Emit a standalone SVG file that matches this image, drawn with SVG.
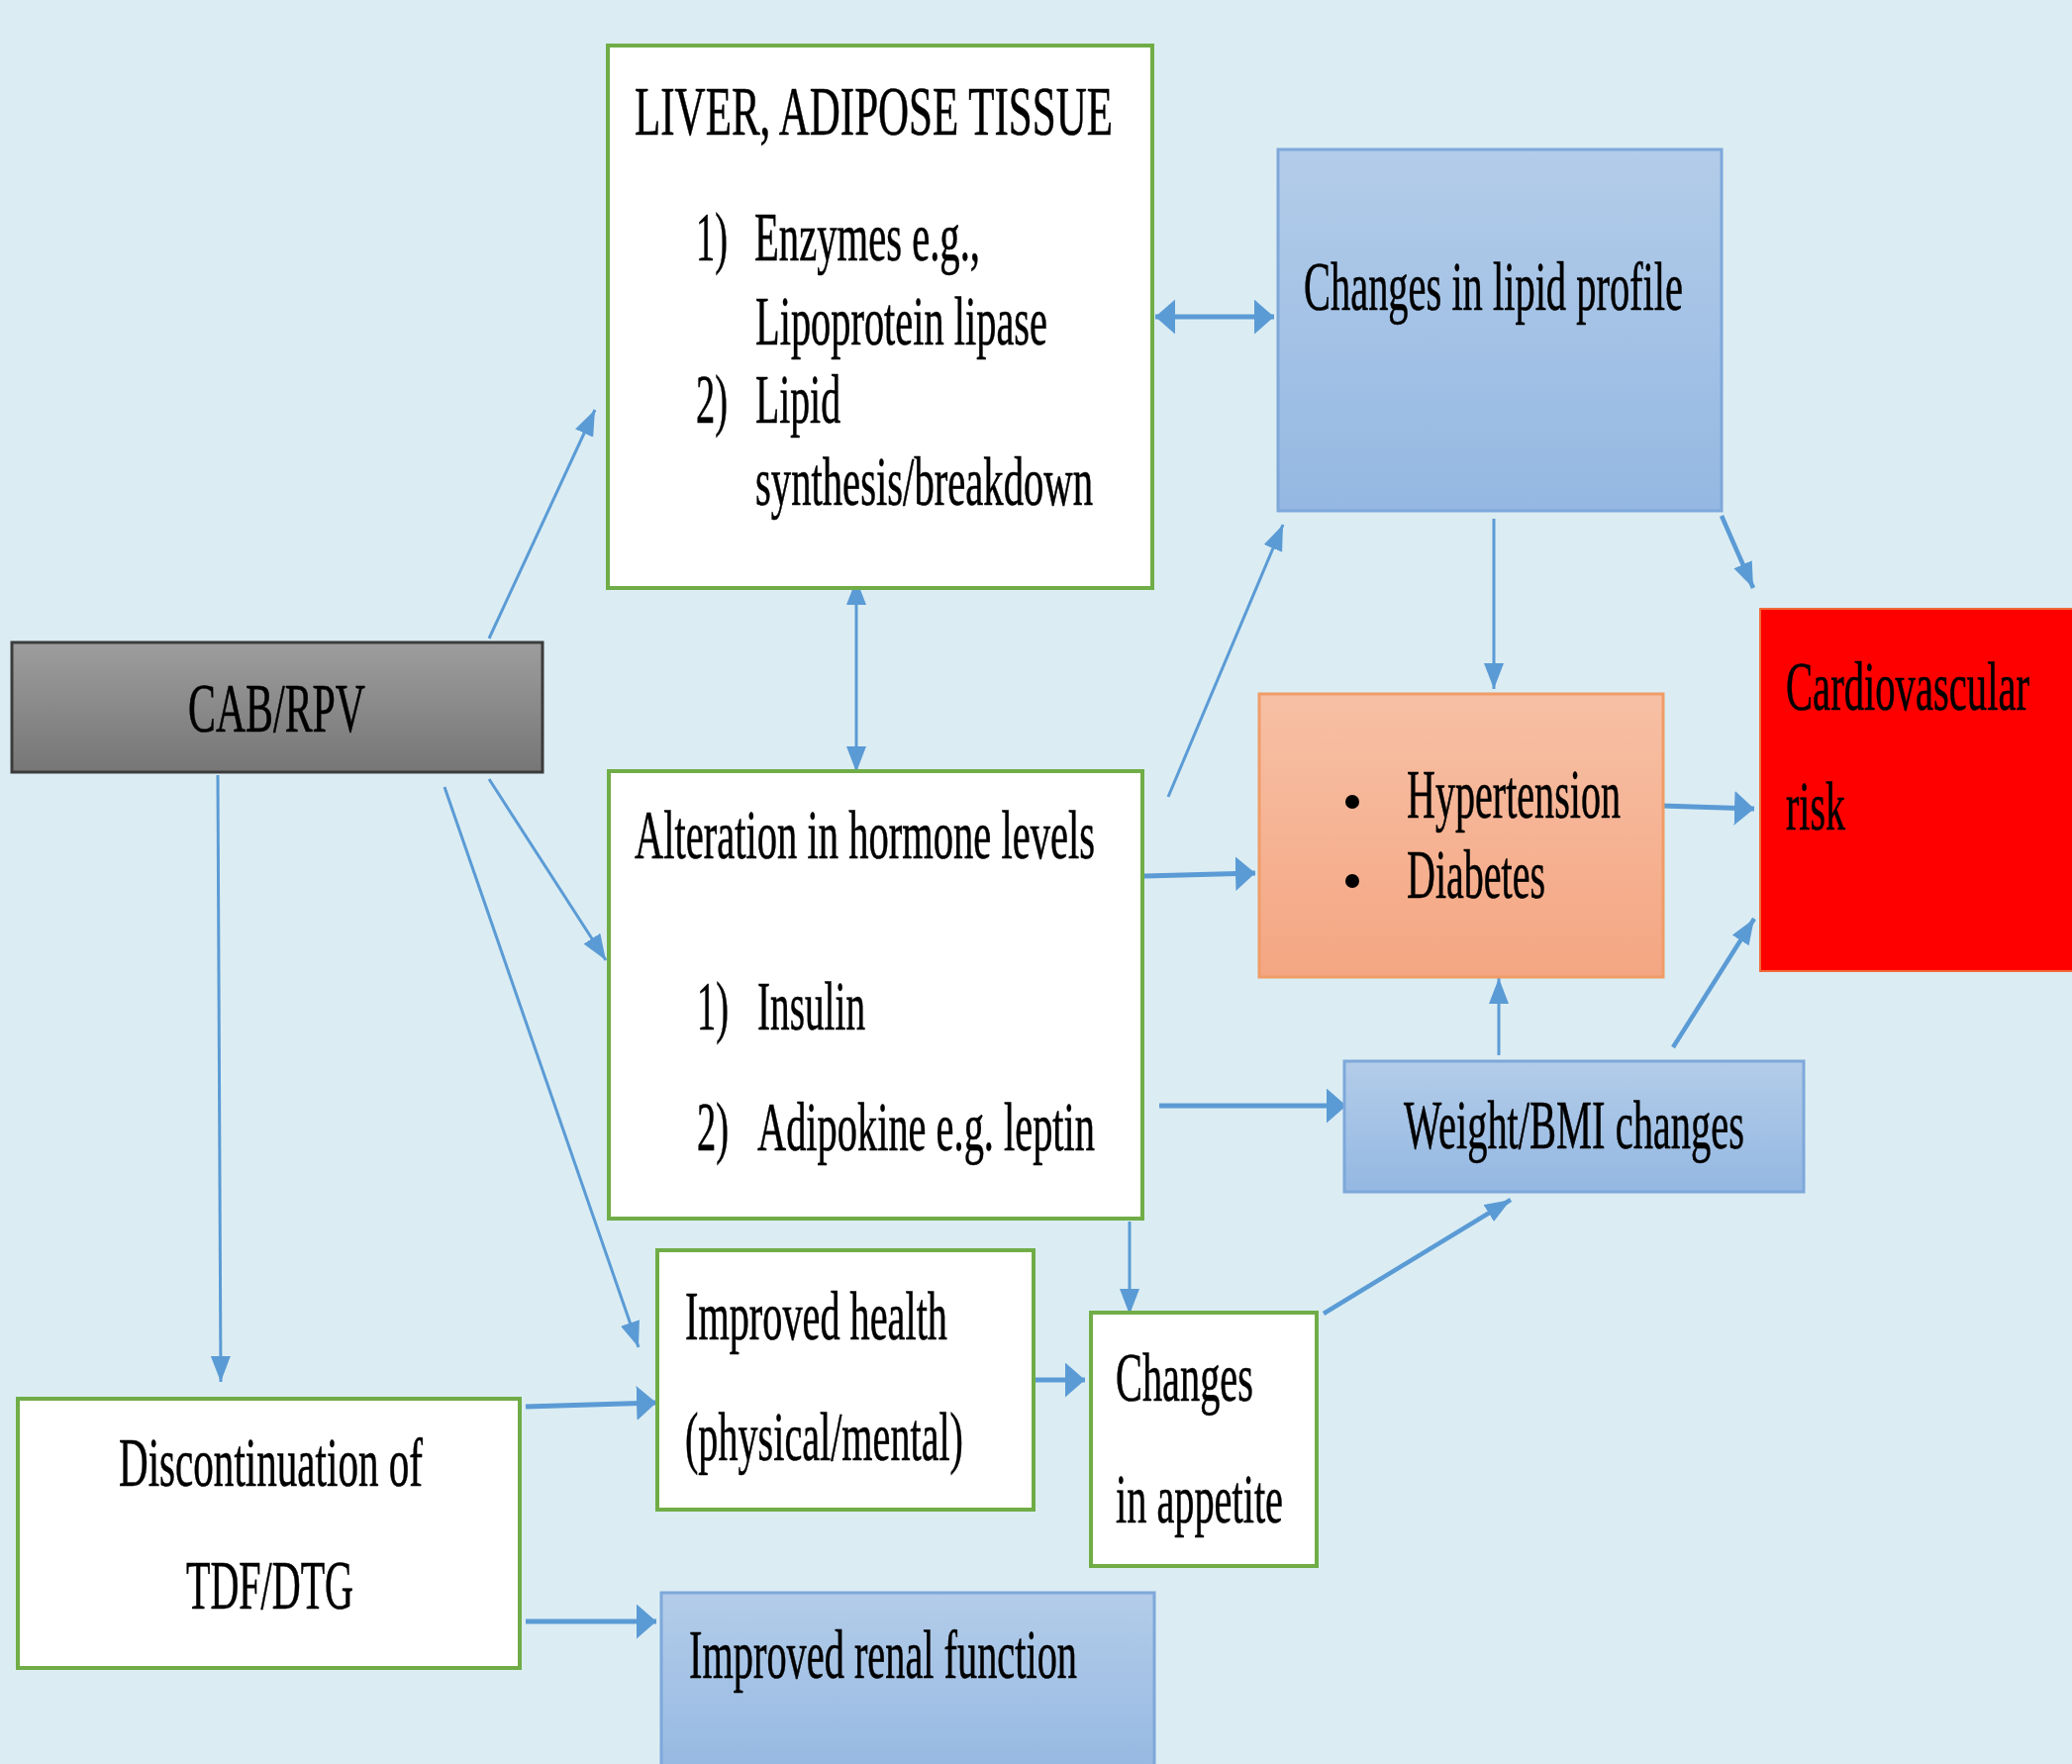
<svg xmlns="http://www.w3.org/2000/svg" width="2093" height="1782" viewBox="0 0 2093 1782">
<defs>
<linearGradient id="gBlue" x1="0" y1="0" x2="0" y2="1"><stop offset="0" stop-color="#b3cce9"/><stop offset="1" stop-color="#94b8e2"/></linearGradient>
<linearGradient id="gOrange" x1="0" y1="0" x2="0" y2="1"><stop offset="0" stop-color="#f7c0a5"/><stop offset="1" stop-color="#f4a682"/></linearGradient>
<linearGradient id="gGray" x1="0" y1="0" x2="0" y2="1"><stop offset="0" stop-color="#9d9d9d"/><stop offset="1" stop-color="#767676"/></linearGradient>
<marker id="thin" markerUnits="userSpaceOnUse" markerWidth="28" markerHeight="22" refX="26" refY="10" orient="auto-start-reverse"><path d="M0,0 L26,10 L0,20 z" fill="#5b9bd5"/></marker>
<marker id="thick" markerUnits="userSpaceOnUse" markerWidth="22" markerHeight="36" refX="20" refY="17.5" orient="auto-start-reverse"><path d="M0,0 L20,17.5 L0,35 z" fill="#5b9bd5"/></marker>
</defs>
<style>
text{font-family:'Liberation Serif','Times New Roman','DejaVu Serif',serif;font-size:70px;fill:#000;stroke:#000;stroke-width:0.6}
.g{fill:#fff;stroke:#70ad47;stroke-width:4}
.b{fill:url(#gBlue);stroke:#7ea8da;stroke-width:3}
.c{fill:none;stroke:#5b9bd5;stroke-width:3}
.m{fill:none;stroke:#5b9bd5;stroke-width:4.5}
.t{fill:none;stroke:#5b9bd5;stroke-width:5}
.ta{marker-end:url(#thin)}
.tk{marker-end:url(#thick)}
</style>
<rect x="0" y="0" width="2093" height="1782" fill="#dbedf3"/>

<g id="connectors">
<line class="c ta" x1="494" y1="645" x2="601" y2="414"/>
<line class="c ta" x1="865" y1="585" x2="865" y2="780" style="marker-start:url(#thin)"/>
<line class="t tk" x1="1167" y1="320" x2="1287" y2="320" style="marker-start:url(#thick)"/>
<line class="c ta" x1="494" y1="787" x2="612" y2="970"/>
<line class="c ta" x1="449" y1="795" x2="645" y2="1361"/>
<line class="c ta" x1="220" y1="783" x2="223" y2="1396"/>
<line class="c ta" x1="1180" y1="805" x2="1296" y2="530"/>
<line class="t tk" x1="1156" y1="885" x2="1268" y2="882"/>
<line class="t tk" x1="1171" y1="1117" x2="1360" y2="1117"/>
<line class="c ta" x1="1141" y1="1234" x2="1141" y2="1328"/>
<line class="c ta" x1="1509" y1="524" x2="1509" y2="696"/>
<line class="m ta" x1="1739" y1="521" x2="1771" y2="594"/>
<line class="t tk" x1="1679" y1="814" x2="1772" y2="817"/>
<line class="m ta" x1="1690" y1="1058" x2="1772" y2="928"/>
<line class="c ta" x1="1514" y1="1066" x2="1514" y2="988"/>
<line class="m ta" x1="1337" y1="1327" x2="1526" y2="1212"/>
<line class="t tk" x1="1045" y1="1394" x2="1096" y2="1394"/>
<line class="t tk" x1="531" y1="1421" x2="663" y2="1417"/>
<line class="t tk" x1="531" y1="1638" x2="663" y2="1638"/>
</g>

<g id="liver">
<rect class="g" x="614" y="46" width="550" height="548"/>
<text x="641" y="136" textLength="483" lengthAdjust="spacingAndGlyphs">LIVER, ADIPOSE TISSUE</text>
<text x="703" y="263" textLength="32" lengthAdjust="spacingAndGlyphs">1)</text>
<text x="762" y="263" textLength="228" lengthAdjust="spacingAndGlyphs">Enzymes e.g.,</text>
<text x="763" y="348" textLength="295" lengthAdjust="spacingAndGlyphs">Lipoprotein lipase</text>
<text x="703" y="427" textLength="32" lengthAdjust="spacingAndGlyphs">2)</text>
<text x="763" y="427" textLength="86" lengthAdjust="spacingAndGlyphs">Lipid</text>
<text x="763" y="510" textLength="341" lengthAdjust="spacingAndGlyphs">synthesis/breakdown</text>
</g>

<g id="lipid-profile">
<rect class="b" x="1291" y="151" width="448" height="365"/>
<text x="1317" y="313" textLength="383" lengthAdjust="spacingAndGlyphs">Changes in lipid profile</text>
</g>

<g id="cardiovascular">
<rect x="1778" y="615" width="320" height="366" fill="#ff0000" stroke="#f06a3a" stroke-width="2"/>
<text x="1804" y="717" textLength="246" lengthAdjust="spacingAndGlyphs">Cardiovascular</text>
<text x="1804" y="838" textLength="60" lengthAdjust="spacingAndGlyphs">risk</text>
</g>

<g id="hypertension">
<rect x="1272" y="701" width="408" height="286" fill="url(#gOrange)" stroke="#f09c68" stroke-width="3"/>
<circle cx="1366" cy="810" r="7" fill="#000"/>
<circle cx="1366" cy="890" r="7" fill="#000"/>
<text x="1421" y="826" textLength="216" lengthAdjust="spacingAndGlyphs">Hypertension</text>
<text x="1421" y="907" textLength="140" lengthAdjust="spacingAndGlyphs">Diabetes</text>
</g>

<g id="cab-rpv">
<rect x="12" y="649" width="536" height="131" fill="url(#gGray)" stroke="#3c3c3c" stroke-width="3"/>
<text x="190" y="739" textLength="179" lengthAdjust="spacingAndGlyphs">CAB/RPV</text>
</g>

<g id="hormone">
<rect class="g" x="615" y="779" width="539" height="452"/>
<text x="641" y="867" textLength="465" lengthAdjust="spacingAndGlyphs">Alteration in hormone levels</text>
<text x="704" y="1040" textLength="32" lengthAdjust="spacingAndGlyphs">1)</text>
<text x="765" y="1040" textLength="109" lengthAdjust="spacingAndGlyphs">Insulin</text>
<text x="704" y="1162" textLength="32" lengthAdjust="spacingAndGlyphs">2)</text>
<text x="765" y="1162" textLength="341" lengthAdjust="spacingAndGlyphs">Adipokine e.g. leptin</text>
</g>

<g id="weight">
<rect class="b" x="1358" y="1072" width="464" height="132"/>
<text x="1418" y="1160" textLength="344" lengthAdjust="spacingAndGlyphs">Weight/BMI changes</text>
</g>

<g id="improved-health">
<rect class="g" x="664" y="1263" width="380" height="262"/>
<text x="692" y="1353" textLength="265" lengthAdjust="spacingAndGlyphs">Improved health</text>
<text x="692" y="1475" textLength="281" lengthAdjust="spacingAndGlyphs">(physical/mental)</text>
</g>

<g id="appetite">
<rect class="g" x="1102" y="1326" width="228" height="256"/>
<text x="1127" y="1415" textLength="139" lengthAdjust="spacingAndGlyphs">Changes</text>
<text x="1127" y="1538" textLength="169" lengthAdjust="spacingAndGlyphs">in appetite</text>
</g>

<g id="discontinuation">
<rect class="g" x="18" y="1413" width="507" height="272"/>
<text x="120" y="1501" textLength="307" lengthAdjust="spacingAndGlyphs">Discontinuation of</text>
<text x="188" y="1625" textLength="169" lengthAdjust="spacingAndGlyphs">TDF/DTG</text>
</g>

<g id="renal">
<rect class="b" x="668" y="1609" width="498" height="190"/>
<text x="696" y="1695" textLength="392" lengthAdjust="spacingAndGlyphs">Improved renal function</text>
</g>
</svg>
